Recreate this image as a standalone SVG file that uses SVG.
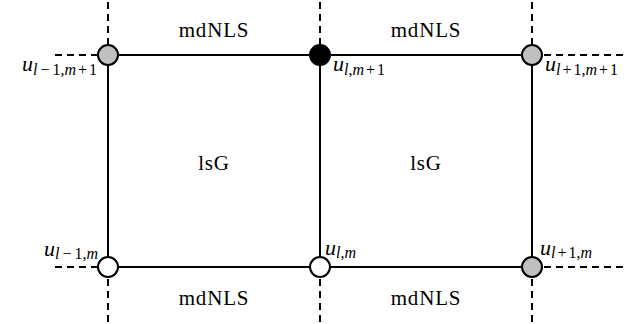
<svg xmlns="http://www.w3.org/2000/svg" width="627" height="324" viewBox="0 0 627 324">
<style>
.s{stroke:#000;stroke-width:2;fill:none}
.d{stroke:#000;stroke-width:2;fill:none;stroke-dasharray:7,5}
.n{stroke:#000;stroke-width:2}
.t{font-family:'Liberation Serif','Times New Roman','DejaVu Serif',serif;font-size:21px;letter-spacing:0.8px;fill:#000}
.u{font-family:'Liberation Serif','Times New Roman','DejaVu Serif',serif;font-size:22px;font-style:italic;fill:#000}
.sub{font-size:16px}
.r{font-style:normal}
</style>
<rect width="627" height="324" fill="#fff"/>
<g id="connectors">
<line class="d" x1="108" y1="2" x2="108" y2="55"/>
<line class="d" x1="320" y1="2" x2="320" y2="55"/>
<line class="d" x1="532" y1="2" x2="532" y2="55"/>
<line class="d" x1="108" y1="267" x2="108" y2="322"/>
<line class="d" x1="320" y1="267" x2="320" y2="322"/>
<line class="d" x1="532" y1="267" x2="532" y2="322"/>
<line class="d" x1="55" y1="55" x2="108" y2="55"/>
<line class="d" x1="55" y1="267" x2="108" y2="267"/>
<line class="d" x1="532" y1="55" x2="627" y2="55"/>
<line class="d" x1="532" y1="267" x2="627" y2="267"/>
<line class="s" x1="108" y1="55" x2="532" y2="55"/>
<line class="s" x1="108" y1="267" x2="532" y2="267"/>
<line class="s" x1="108" y1="55" x2="108" y2="267"/>
<line class="s" x1="320" y1="55" x2="320" y2="267"/>
<line class="s" x1="532" y1="55" x2="532" y2="267"/>
</g>
<g id="labels">
<text class="t" x="214" y="37" text-anchor="middle">mdNLS</text>
<text class="t" x="426" y="37" text-anchor="middle">mdNLS</text>
<text class="t" x="214" y="305" text-anchor="middle">mdNLS</text>
<text class="t" x="426" y="305" text-anchor="middle">mdNLS</text>
<text class="t" x="214" y="170" text-anchor="middle">lsG</text>
<text class="t" x="426" y="170" text-anchor="middle">lsG</text>
</g>
<g id="n_lm1_mp1">
<circle class="n" cx="108" cy="55" r="10" fill="#c0c0c0"/>
<text class="u" x="97" y="71" text-anchor="end">u<tspan class="sub" dy="4">l<tspan class="r" dx="3">−</tspan><tspan class="r" dx="3">1,</tspan>m<tspan class="r" dx="2">+</tspan><tspan class="r" dx="2">1</tspan></tspan></text>
</g>
<g id="n_l_mp1">
<circle class="n" cx="320" cy="55" r="10" fill="#000"/>
<text class="u" x="333" y="71">u<tspan class="sub" dy="4">l<tspan class="r">,</tspan>m<tspan class="r" dx="2">+</tspan><tspan class="r" dx="2">1</tspan></tspan></text>
</g>
<g id="n_lp1_mp1">
<circle class="n" cx="532" cy="55" r="10" fill="#c0c0c0"/>
<text class="u" x="545" y="71">u<tspan class="sub" dy="4">l<tspan class="r" dx="2">+</tspan><tspan class="r" dx="2">1,</tspan>m<tspan class="r" dx="2">+</tspan><tspan class="r" dx="2">1</tspan></tspan></text>
</g>
<g id="n_lm1_m">
<circle class="n" cx="108" cy="267" r="10" fill="#fff"/>
<text class="u" x="98" y="256" text-anchor="end">u<tspan class="sub" dy="3">l<tspan class="r" dx="3">−</tspan><tspan class="r" dx="3">1,</tspan>m</tspan></text>
</g>
<g id="n_l_m">
<circle class="n" cx="320" cy="267" r="10" fill="#fff"/>
<text class="u" x="325" y="255">u<tspan class="sub" dy="3">l<tspan class="r">,</tspan>m</tspan></text>
</g>
<g id="n_lp1_m">
<circle class="n" cx="532" cy="267" r="10" fill="#c0c0c0"/>
<text class="u" x="540" y="255">u<tspan class="sub" dy="3">l<tspan class="r" dx="2">+</tspan><tspan class="r" dx="2">1,</tspan>m</tspan></text>
</g>
</svg>
